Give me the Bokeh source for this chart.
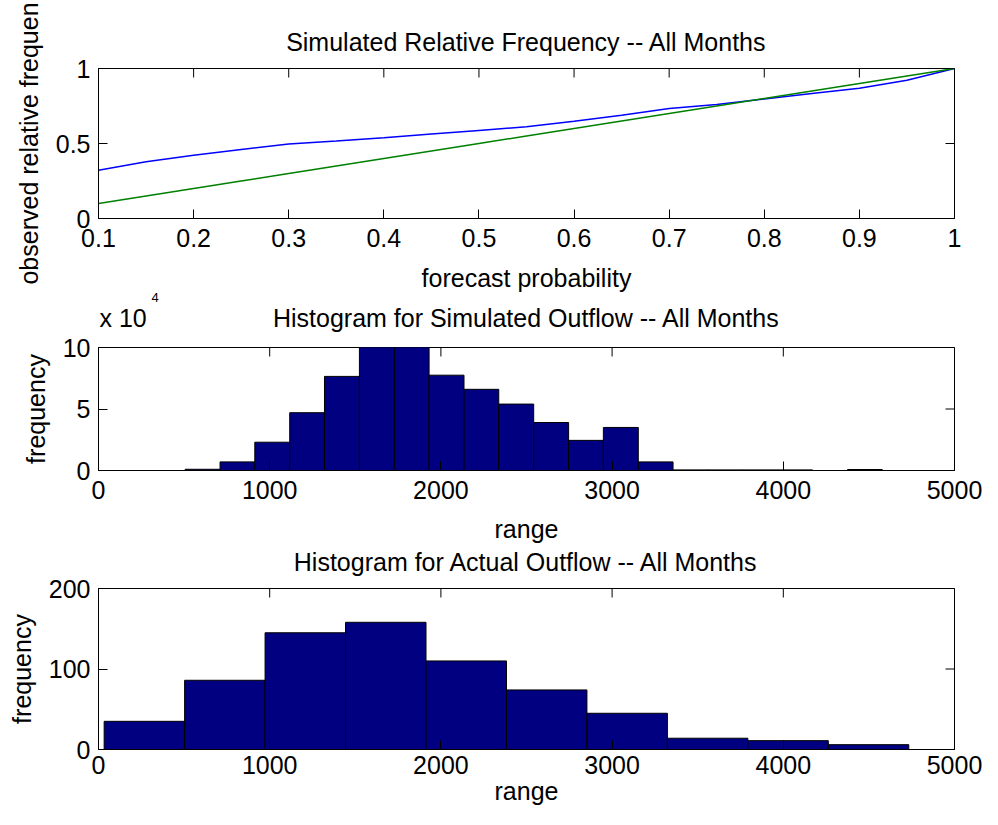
import math
from bokeh.plotting import figure
from bokeh.layouts import column
from bokeh.models import FixedTicker, CustomJSTickFormatter, Label, Range1d
from bokeh.embed import file_html
from bokeh.resources import INLINE

# ---------------- data ----------------
# Panel 1: reliability curve
prob = [0.10, 0.15, 0.20, 0.25, 0.30, 0.35, 0.40, 0.45, 0.50, 0.55,
        0.60, 0.65, 0.70, 0.75, 0.80, 0.85, 0.90, 0.95, 1.00]
observed_sim = [0.322, 0.378, 0.422, 0.460, 0.496, 0.516, 0.538, 0.564, 0.587, 0.611,
                0.649, 0.689, 0.733, 0.760, 0.797, 0.833, 0.868, 0.922, 1.000]
observed_ideal = [0.10, 0.15, 0.20, 0.25, 0.30, 0.35, 0.40, 0.45, 0.50, 0.55,
                  0.60, 0.65, 0.70, 0.75, 0.80, 0.85, 0.90, 0.95, 1.00]
prob_ticks = [0.1, 0.2, 0.3, 0.4, 0.5, 0.6, 0.7, 0.8, 0.9, 1.0]
rel_ticks = [0, 0.5, 1]

# Panel 2: simulated outflow histogram (counts in units of 10^4)
sim_edges = [506, 710, 913, 1117, 1320, 1524, 1728, 1931, 2135, 2338, 2542,
             2746, 2949, 3153, 3356, 3560, 3764, 3967, 4171, 4375, 4578]
sim_counts_e4 = [0.10, 0.70, 2.30, 4.70, 7.65, 10.6, 10.3, 7.75, 6.60, 5.40,
                 3.90, 2.45, 3.50, 0.70, 0.05, 0.05, 0.05, 0.05, 0.0, 0.08]
sim_yticks = [0, 5, 10]

# Panel 3: actual outflow histogram
act_edges = [33, 503, 973, 1443, 1913, 2383, 2853, 3323, 3793, 4263, 4733]
act_counts = [35, 86, 145, 158, 110, 74, 45, 14, 11, 6]
act_yticks = [0, 100, 200]

range_ticks = [0, 1000, 2000, 3000, 4000, 5000]

FONT = "Liberation Sans"
FS = "25px"
TICK = 9


def style(p, xticks, yticks, xr, yr):
    p.xgrid.visible = False
    p.ygrid.visible = False
    p.outline_line_color = "black"
    p.outline_line_alpha = 1.0
    p.background_fill_color = "white"
    p.border_fill_color = "white"
    for ax, ticks in ((p.xaxis[0], xticks), (p.yaxis[0], yticks)):
        ax.ticker = FixedTicker(ticks=ticks)
        ax.major_tick_in = TICK
        ax.major_tick_out = 0
        ax.minor_tick_in = 0
        ax.minor_tick_out = 0
        ax.axis_line_color = "black"
        ax.major_tick_line_color = "black"
        ax.major_label_text_font = FONT
        ax.major_label_text_font_size = FS
        ax.major_label_text_color = "black"
        ax.axis_label_text_font = FONT
        ax.axis_label_text_font_size = FS
        ax.axis_label_text_font_style = "normal"
        ax.axis_label_text_color = "black"
    p.yaxis[0].major_label_standoff = 8
    p.yaxis[0].axis_label_standoff = 10
    # mirrored inward ticks on top and right edges (MATLAB "box on")
    p.scatter(x=xticks, y=[yr[1]] * len(xticks), marker="dash", size=2 * TICK,
              angle=math.pi / 2, line_color="black", line_width=1)
    p.scatter(x=[xr[1]] * len(yticks), y=yticks, marker="dash", size=2 * TICK,
              line_color="black", line_width=1)


def text_label(x, y, dx, dy, txt, size=FS, align="center"):
    return Label(x=x, y=y, x_offset=dx, y_offset=dy, text=txt,
                 text_font=FONT, text_font_size=size, text_color="black",
                 text_align=align, text_baseline="alphabetic")


W = 982
LB, RB = 98, 28

# ---------------- panel 1 ----------------
xr1, yr1 = (0.1, 1.0), (0, 1)
p1 = figure(width=W, height=333, output_backend="svg", toolbar_location=None,
            x_range=Range1d(*xr1), y_range=Range1d(*yr1),
            y_axis_label="observed relative frequen",
            min_border_left=LB, min_border_right=RB,
            min_border_top=68, min_border_bottom=115)
p1.line(prob, observed_sim, line_color="#0000FF", line_width=1.5)
p1.line(prob, observed_ideal, line_color="#008000", line_width=1.5)
style(p1, prob_ticks, rel_ticks, xr1, yr1)
p1.xaxis[0].formatter = CustomJSTickFormatter(code="return (Math.round(tick*10)/10).toString();")
p1.yaxis[0].formatter = CustomJSTickFormatter(code="return (Math.round(tick*10)/10).toString();")
p1.xaxis[0].major_label_standoff = 10

xmid1 = (xr1[0] + xr1[1]) / 2
# title and x label of the top panel
p1.add_layout(text_label(xmid1, yr1[1], 0, 27, "Simulated Relative Frequency -- All Months"), "above")
p1.add_layout(text_label(xmid1, yr1[0], 0, -59, "forecast probability"), "above")
# title and exponent of the middle panel (drawn in the strip between the panels)
p1.add_layout(text_label(xmid1, yr1[0], 0, -99, "Histogram for Simulated Outflow -- All Months"), "below")
p1.add_layout(text_label(xr1[0], yr1[0], 1, -99, "x 10", FS, "left"), "below")
p1.add_layout(text_label(xr1[0], yr1[0], 53, -79, "4", "13px", "left"), "below")

# ---------------- panel 2 ----------------
xr2, yr2 = (0, 5000), (0, 10)
p2 = figure(width=W, height=214, output_backend="svg", toolbar_location=None,
            x_range=Range1d(*xr2), y_range=Range1d(*yr2),
            x_axis_label="range", y_axis_label="frequency",
            min_border_left=LB, min_border_right=RB,
            min_border_top=14, min_border_bottom=77)
p2.quad(left=sim_edges[:-1], right=sim_edges[1:], bottom=0, top=sim_counts_e4,
        fill_color="#000080", line_color="black", line_width=1)
style(p2, range_ticks, sim_yticks, xr2, yr2)
p2.xaxis[0].major_label_standoff = 10
p2.xaxis[0].axis_label_standoff = 13

# ---------------- panel 3 ----------------
xr3, yr3 = (0, 5000), (0, 200)
p3 = figure(width=W, height=262, output_backend="svg", toolbar_location=None,
            x_range=Range1d(*xr3), y_range=Range1d(*yr3),
            x_axis_label="range", y_axis_label="frequency",
            min_border_left=LB, min_border_right=RB,
            min_border_top=41, min_border_bottom=60)
p3.quad(left=act_edges[:-1], right=act_edges[1:], bottom=0, top=act_counts,
        fill_color="#000080", line_color="black", line_width=1)
style(p3, range_ticks, act_yticks, xr3, yr3)
p3.add_layout(text_label((xr3[0] + xr3[1]) / 2, yr3[1], 0, 27,
                         "Histogram for Actual Outflow -- All Months"), "above")
p3.xaxis[0].major_label_standoff = 6
p3.xaxis[0].axis_label_standoff = 0

layout = column(p1, p2, p3, spacing=0)
open("out.html", "w").write(file_html(layout, INLINE))
